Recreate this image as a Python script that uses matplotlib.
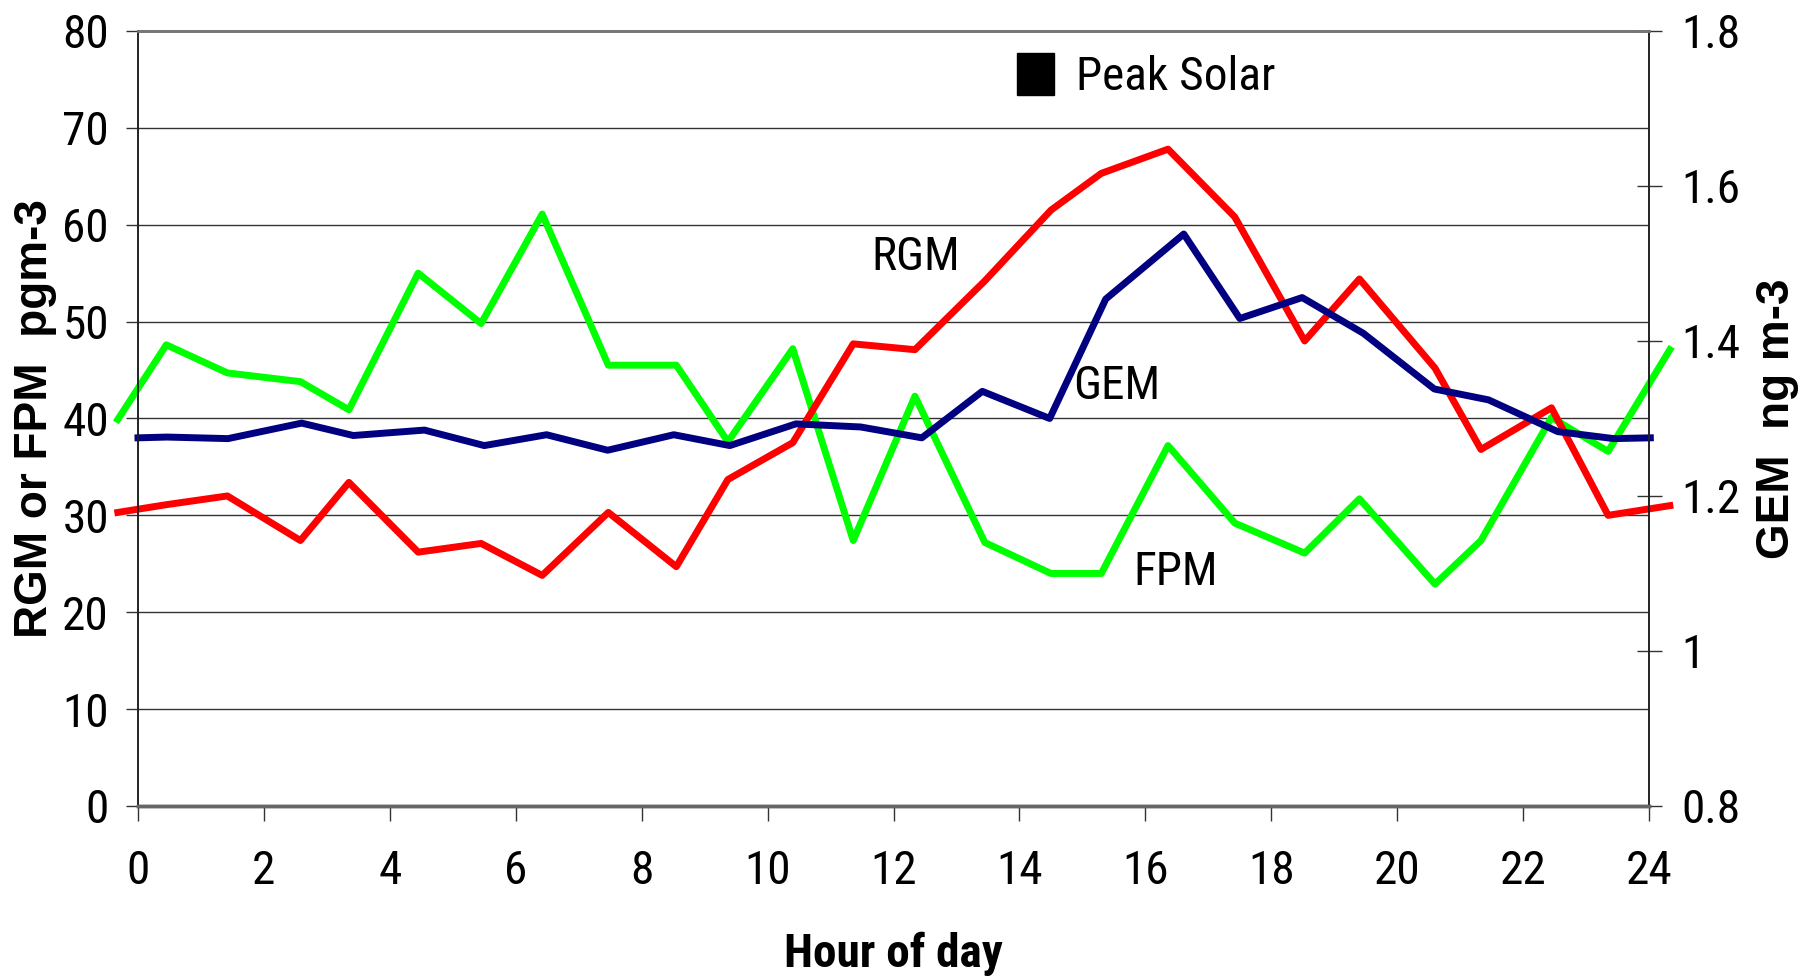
import matplotlib
matplotlib.use("Agg")
import matplotlib.pyplot as plt
from matplotlib import font_manager
from matplotlib.patches import Patch
from matplotlib.ticker import FuncFormatter

# narrow sans to stand in for Arial Narrow
names = {f.name for f in font_manager.fontManager.ttflist}
fam = "Roboto Condensed" if "Roboto Condensed" in names else "Liberation Sans"
plt.rcParams["font.family"] = [fam, "DejaVu Sans"]

# Data
# hour positions of the RGM / FPM points
hours = [-0.32, 0.45, 1.42, 2.58, 3.35, 4.45, 5.45, 6.42, 7.47, 8.55, 9.37, 10.4, 11.36,
         12.34, 13.45, 14.5, 15.3, 16.36, 17.42, 18.53, 19.4, 20.6, 21.33, 22.45, 23.35, 24.33]
rgm = [30.3, 31.1, 32.0, 27.4, 33.4, 26.2, 27.1, 23.8, 30.3, 24.7, 33.7, 37.5, 47.7,
       47.1, 54.2, 61.5, 65.3, 67.8, 60.8, 48.0, 54.4, 45.2, 36.8, 41.1, 30.0, 31.0]
fpm = [39.9, 47.6, 44.7, 43.8, 40.9, 55.0, 49.8, 61.1, 45.5, 45.5, 37.6, 47.2, 27.4,
       42.3, 27.2, 24.0, 24.0, 37.2, 29.2, 26.1, 31.7, 22.9, 27.4, 40.1, 36.6, 47.1]

# GEM on the right axis (ng m-3)
gem_hours = [0, 0.46, 1.43, 2.6, 3.42, 4.55, 5.5, 6.49, 7.46, 8.51, 9.4, 10.45, 11.48,
             12.45, 13.41, 14.48, 15.37, 16.61, 17.5, 18.49, 19.46, 20.59, 21.45, 22.55, 23.44, 24.02]
gem = [1.275, 1.276, 1.274, 1.294, 1.278, 1.285, 1.265, 1.279, 1.259, 1.279, 1.265, 1.293, 1.289,
       1.275, 1.335, 1.300, 1.454, 1.538, 1.429, 1.456, 1.410, 1.338, 1.324, 1.283, 1.274, 1.275]

fig = plt.figure(figsize=(18.06, 9.8), dpi=100)
ax = fig.add_axes([0.0764, 0.1776, 0.8367, 0.7908])
ax2 = ax.twinx()

fs = 34
lw = 5

ax.set_xlim(0, 24)
ax.set_ylim(0, 80)
ax.set_xticks(range(0, 25, 2))
ax.set_yticks(range(0, 81, 10))
ax.yaxis.grid(True, color="#333333", linewidth=1.0)
ax.set_axisbelow(True)

ax.plot(hours, fpm, color="#00ff00", linewidth=lw, clip_on=False)
ax.plot(hours, rgm, color="#ff0000", linewidth=lw, clip_on=False)

ax2.set_ylim(0.8, 1.8)
ax2.set_yticks([0.8, 1.0, 1.2, 1.4, 1.6, 1.8])
ax2.yaxis.set_major_formatter(FuncFormatter(lambda v, p: "%g" % round(v, 1)))
ax2.plot(gem_hours, gem, color="#000080", linewidth=lw, clip_on=False)

for a in (ax, ax2):
    a.spines["top"].set_color("#777777")
    a.spines["top"].set_linewidth(2)
    a.spines["bottom"].set_color("#666666")
    a.spines["bottom"].set_linewidth(2.5)
    a.spines["left"].set_color("#222222")
    a.spines["left"].set_linewidth(1.2)
    a.spines["right"].set_color("#222222")
    a.spines["right"].set_linewidth(1.2)

ax.tick_params(axis="x", direction="out", length=11, width=1, pad=20, labelsize=fs, color="#333333")
ax.tick_params(axis="y", direction="out", length=9, width=1, pad=12, labelsize=fs, color="#333333")
ax2.tick_params(axis="y", direction="inout", length=18, width=1, pad=14, labelsize=fs, color="#333333")

# axis titles: wide bold for the y titles, narrow bold for x
ax.set_xlabel("Hour of day", fontsize=fs, fontweight="bold", labelpad=28)
ax.set_ylabel("RGM or FPM  pgm-3", fontsize=33, fontweight="bold", labelpad=4,
              family=["Liberation Sans", "DejaVu Sans"])
ax2.set_ylabel("GEM  ng m-3", fontsize=33, fontweight="bold", labelpad=11, rotation=90,
               family=["Liberation Sans", "DejaVu Sans"])

# series labels
ax.text(12.35, 56.7, "RGM", fontsize=fs, ha="center", va="center")
ax.text(15.55, 43.3, "GEM", fontsize=fs, ha="center", va="center")
ax.text(16.48, 24.1, "FPM", fontsize=fs, ha="center", va="center")

ax2.legend(handles=[Patch(facecolor="black", edgecolor="black", label="Peak Solar")],
           loc="center left", bbox_to_anchor=(0.582, 0.942), frameon=False, fontsize=fs,
           handlelength=0.78, handleheight=1.0, handletextpad=0.45,
           borderpad=0, borderaxespad=0)

fig.savefig("out.png", dpi=100)
